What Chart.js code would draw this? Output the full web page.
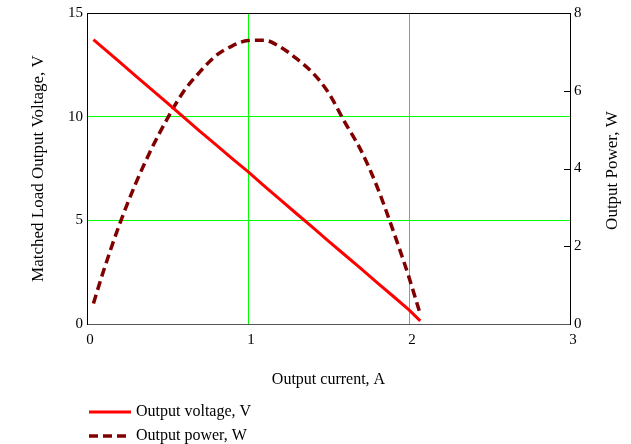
<!DOCTYPE html>
<html>
<head>
<meta charset="utf-8">
<script src="https://cdn.jsdelivr.net/npm/chart.js@4/dist/chart.umd.min.js"></script>
<style>
  html, body { margin: 0; padding: 0; background: #fff; }
  #wrap { width: 631px; height: 444px; }
</style>
</head>
<body>
<div id="wrap"><canvas id="powerChart"></canvas></div>
<script>
// output current, A
const current = [0.04, 0.1, 0.2, 0.3, 0.4, 0.5, 0.6, 0.7, 0.8, 0.9, 1.0, 1.1, 1.2, 1.3, 1.4, 1.5, 1.6, 1.7, 1.8, 1.9, 2.0, 2.07];
// matched load output voltage, V
const voltage = [13.72, 13.32, 12.65, 11.98, 11.32, 10.65, 9.98, 9.3, 8.65, 7.99, 7.35, 6.66, 6.0, 5.33, 4.67, 4.0, 3.34, 2.68, 2.01, 1.35, 0.68, 0.15];
// output power, W
const power = [0.53, 1.33, 2.54, 3.59, 4.5, 5.29, 5.98, 6.48, 6.9, 7.15, 7.29, 7.3, 7.13, 6.83, 6.47, 5.95, 5.2, 4.48, 3.55, 2.42, 1.2, 0.25];

const voltageTicks = [0, 5, 10, 15];
const powerTicks = [0, 2, 4, 6, 8];
const currentTicks = [0, 1, 2, 3];

const FONT = 'Liberation Serif';
const gridGreen = 'rgb(0,255,0)';

const pts = ys => current.map((x, i) => ({ x: x, y: ys[i] }));

// extra drawing: top frame, inner ticks on right axis, right title, legend
const extras = {
    id: 'extras',
    afterDraw(chart) {
        const ctx = chart.ctx;
        const a = chart.chartArea;
        ctx.save();
        ctx.strokeStyle = '#000';
        ctx.lineWidth = 1;
        ctx.beginPath();
        ctx.moveTo(a.left, a.top + 0.5);
        ctx.lineTo(a.right, a.top + 0.5);
        ctx.stroke();

        const y1 = chart.scales.y1;
        powerTicks.forEach(v => {
            if (v === 0 || v === 8) return;
            const py = Math.round(y1.getPixelForValue(v)) + 0.5;
            ctx.beginPath();
            ctx.moveTo(a.right - 6, py);
            ctx.lineTo(a.right, py);
            ctx.stroke();
        });

        ctx.fillStyle = '#000';
        ctx.font = '17px "' + FONT + '"';
        ctx.textAlign = 'center';
        ctx.textBaseline = 'middle';
        ctx.translate(613, (a.top + a.bottom) / 2 + 2);
        ctx.rotate(-Math.PI / 2);
        ctx.fillText('Output Power, W', 0, 0);
        ctx.restore();

        ctx.save();
        ctx.font = '16px "' + FONT + '"';
        ctx.textBaseline = 'middle';
        ctx.fillStyle = '#000';
        chart.data.datasets.forEach((ds, i) => {
            const ly = 412 + i * 24;
            ctx.strokeStyle = ds.borderColor;
            ctx.lineWidth = ds.borderWidth;
            ctx.setLineDash(ds.borderDash || []);
            ctx.beginPath();
            ctx.moveTo(89, ly);
            ctx.lineTo(131, ly);
            ctx.stroke();
            ctx.setLineDash([]);
            ctx.fillText(ds.label, 136, ly);
        });
        ctx.restore();
    }
};

const hideEdges = (lo, hi) => c => (c.tick && (c.tick.value === lo || c.tick.value === hi)) ? 'rgba(0,0,0,0)' : gridGreen;

Chart.defaults.font.family = FONT;
Chart.defaults.font.size = 15;
Chart.defaults.color = '#000';

new Chart(document.getElementById('powerChart'), {
    type: 'line',
    data: {
        datasets: [
            {
                label: 'Output voltage, V',
                data: pts(voltage),
                yAxisID: 'y',
                borderColor: '#ff0000',
                borderWidth: 3,
                pointRadius: 0,
                fill: false
            },
            {
                label: 'Output power, W',
                data: pts(power),
                yAxisID: 'y1',
                borderColor: '#800000',
                borderWidth: 3.5,
                borderDash: [9, 5],
                pointRadius: 0,
                cubicInterpolationMode: 'monotone',
                fill: false
            }
        ]
    },
    options: {
        responsive: true,
        maintainAspectRatio: false,
        animation: false,
        layout: { padding: { top: 13, bottom: 55, left: 0, right: 0 } },
        plugins: {
            legend: { display: false },
            tooltip: { enabled: false }
        },
        scales: {
            x: {
                type: 'linear',
                min: 0,
                max: 3,
                afterBuildTicks: s => { s.ticks = currentTicks.map(v => ({ value: v })); },
                afterFit: s => { s.height = 65; },
                ticks: { padding: 7, labelOffset: 3 },
                grid: { color: hideEdges(0, 3), drawTicks: false, lineWidth: 1 },
                border: { display: true, color: '#555', width: 1 },
                title: { display: true, text: 'Output current, A', font: { size: 16 }, padding: { top: 0, bottom: 0 } }
            },
            y: {
                position: 'left',
                min: 0,
                max: 15,
                afterBuildTicks: s => { s.ticks = voltageTicks.map(v => ({ value: v })); },
                afterFit: s => { s.width = 87; },
                ticks: { padding: 4 },
                grid: { color: hideEdges(0, 15), drawTicks: false, lineWidth: 1 },
                border: { display: true, color: '#000', width: 1 },
                title: { display: true, text: 'Matched Load Output Voltage, V', font: { size: 17 }, padding: { top: 28, bottom: 0 } }
            },
            y1: {
                position: 'right',
                min: 0,
                max: 8,
                afterBuildTicks: s => { s.ticks = powerTicks.map(v => ({ value: v })); },
                afterFit: s => { s.width = 61; },
                ticks: { padding: 4 },
                grid: { drawOnChartArea: false, drawTicks: false },
                border: { display: true, color: '#000', width: 1 }
            }
        }
    },
    plugins: [extras]
});
</script>
</body>
</html>
